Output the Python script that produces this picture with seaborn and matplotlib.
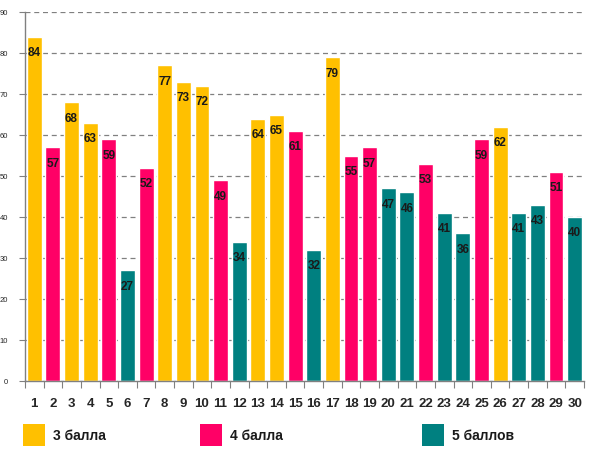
import matplotlib
matplotlib.use("Agg")
import matplotlib.pyplot as plt
import seaborn as sns
import pandas as pd
from matplotlib.patches import Rectangle

numbers = list(range(1, 31))
values = [84, 57, 68, 63, 59, 27, 52, 77, 73, 72, 49, 34, 64, 65, 61, 32, 79, 55, 57, 47,
          46, 53, 41, 36, 59, 62, 41, 43, 51, 40]
grades = ["3 балла", "4 балла", "3 балла", "3 балла", "4 балла", "5 баллов", "4 балла",
          "3 балла", "3 балла", "3 балла", "4 балла", "5 баллов", "3 балла", "3 балла",
          "4 балла", "5 баллов", "3 балла", "4 балла", "4 балла", "5 баллов", "5 баллов",
          "4 балла", "5 баллов", "5 баллов", "4 балла", "3 балла", "5 баллов", "5 баллов",
          "4 балла", "5 баллов"]
categories = ["3 балла", "4 балла", "5 баллов"]
colors = ["#FFC000", "#FF0066", "#008080"]
yticks = list(range(0, 91, 10))

df = pd.DataFrame({"num": [str(n) for n in numbers], "value": values, "grade": grades})

sns.set_style("white")
plt.rcParams["font.family"] = ["Liberation Sans", "DejaVu Sans"]

fig = plt.figure(figsize=(5.89, 4.55), dpi=100)
ax = fig.add_axes([0.0424, 0.1626, 0.949, 0.811])

sns.barplot(data=df, x="num", y="value", hue="grade", hue_order=categories,
            palette=dict(zip(categories, colors)), dodge=False, width=0.8,
            legend=False, ax=ax, saturation=1)

ax.set_ylim(0, 90)
ax.set_xlim(-0.5, len(numbers) - 0.5)
ax.set_yticks(yticks)
ax.set_yticklabels([str(t) for t in yticks], fontsize=5.5)
ax.set_xlabel("")
ax.set_ylabel("")
ax.set_axisbelow(True)
ax.yaxis.grid(True, color="#808080", linestyle=(0, (4, 3)), linewidth=0.9)
ax.tick_params(axis="y", length=4, color="#808080", width=0.8, pad=8, left=True)
ax.tick_params(axis="x", which="major", length=0, pad=12)
ax.set_xticks([i - 0.5 for i in range(len(numbers) + 1)], minor=True)
ax.tick_params(axis="x", which="minor", length=5, color="#808080", width=0.8, bottom=True)
for lab in ax.get_xticklabels():
    lab.set_fontweight("bold")
    lab.set_fontsize(9.5)

for s in ["top", "right"]:
    ax.spines[s].set_visible(False)
for s in ["left", "bottom"]:
    ax.spines[s].set_color("#808080")
    ax.spines[s].set_linewidth(1)

for i, v in enumerate(values):
    ax.text(i, v - 4, str(v), ha="center", va="center", fontsize=8.5,
            fontweight="bold", color="#1a1a1a")

# legend
leg_x = [23, 200, 422]
for cat, col, x in zip(categories, colors, leg_x):
    fig.add_artist(Rectangle((x / 589, 1 - 446 / 455), 22 / 589, 22 / 455,
                             transform=fig.transFigure, facecolor=col, edgecolor="none"))
    fig.text((x + 30) / 589, 1 - 436 / 455, cat, fontsize=10, fontweight="bold",
             va="center", ha="left", color="#1a1a1a")

fig.savefig("out.png", dpi=100)
